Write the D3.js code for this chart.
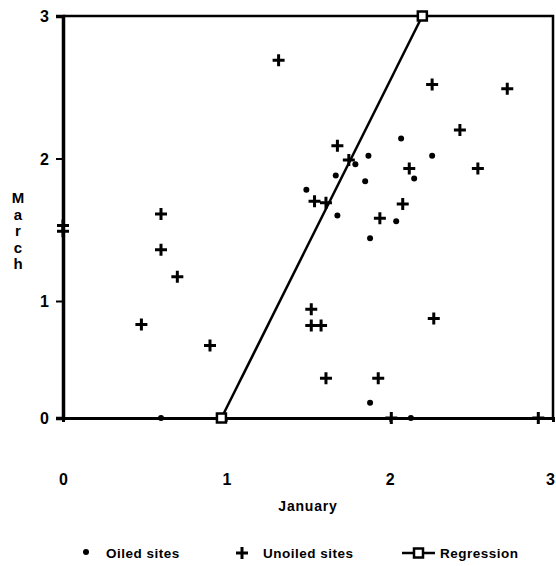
<!DOCTYPE html>
<html>
<head>
<meta charset="utf-8">
<script src="https://cdn.jsdelivr.net/npm/d3@7"></script>
<style>
  body { margin: 0; background: #fff; }
  text { font-family: "Liberation Sans", Arial, sans-serif; font-weight: bold; fill: #000; }
</style>
</head>
<body>
<div id="chart"></div>
<script>
// values: [January, March]
var oiledSites = [
  [0.60, 0], [1.49, 1.78], [1.67, 1.88], [1.68, 1.60], [1.79, 1.96],
  [1.85, 1.84], [1.87, 2.02], [1.88, 1.44], [2.04, 1.56], [2.07, 2.14],
  [2.15, 1.86], [2.26, 2.02], [1.88, 0.13], [2.13, 0]
];
var unoiledSites = [
  [0, 1.53], [0, 1.49], [0.48, 0.80], [0.60, 1.61], [0.60, 1.36],
  [0.70, 1.17], [0.90, 0.62], [1.32, 2.69], [1.54, 1.70], [1.61, 1.69],
  [1.68, 2.09], [1.75, 1.99], [2.08, 1.68], [1.94, 1.58], [2.12, 1.93],
  [2.26, 2.52], [2.72, 2.49], [2.43, 2.20], [2.54, 1.93], [1.52, 0.93],
  [1.52, 0.79], [1.58, 0.79], [2.27, 0.85], [1.61, 0.34], [1.93, 0.34],
  [2.01, 0], [2.91, 0]
];
var regression = [[0.97, 0], [2.2, 3]];
var xTicks = [0, 1, 2, 3];
var yTicks = [0, 1, 2, 3];
var yTitle = "March";
var xTitle = "January";
var legendItems = ["Oiled sites", "Unoiled sites", "Regression"];

var width = 556, height = 566;

var svg = d3.select("#chart").append("svg")
  .attr("width", width)
  .attr("height", height);

var x = d3.scaleLinear().domain([0, 3]).range([63, 553]);
// scanned figure: lower unit is squashed, so a piecewise scale
var y = d3.scaleLinear().domain([0, 1, 3]).range([418, 301, 16]);

// frame (top + right)
svg.append("path")
  .attr("d", "M" + x(0) + "," + y(3) + "H" + x(3) + "V" + y(0))
  .attr("fill", "none")
  .attr("stroke", "#000")
  .attr("stroke-width", 2.5);

// y axis
var yAxis = svg.append("g")
  .attr("transform", "translate(" + x(0) + ",0)")
  .call(d3.axisLeft(y).tickValues(yTicks).tickSize(7).tickPadding(7).tickFormat(d3.format("d")));
yAxis.select(".domain").attr("stroke-width", 3.5);
yAxis.selectAll(".tick line").attr("stroke-width", 2);
yAxis.selectAll(".tick text").style("font-size", "16px").attr("dy", "0.35em");

// x axis
var xAxis = svg.append("g")
  .attr("transform", "translate(0," + y(0) + ")")
  .call(d3.axisBottom(x).tickValues(xTicks).tickSize(4).tickPadding(63).tickFormat(d3.format("d")));
xAxis.select(".domain").attr("stroke-width", 3);
xAxis.selectAll(".tick line").attr("stroke-width", 1.5);
xAxis.selectAll(".tick text").style("font-size", "16px").attr("dy", "0");
// last label sits on the right edge, nudge it inside
xAxis.selectAll(".tick text").filter(function (d) { return d === 3; }).attr("x", -3);

// y title, one letter per line
svg.append("text")
  .attr("x", 18)
  .attr("y", 198)
  .attr("text-anchor", "middle")
  .style("font-size", "15px")
  .selectAll("tspan")
  .data(yTitle.split(""))
  .join("tspan")
  .attr("x", 18)
  .attr("dy", function (d, i) { return i === 0 ? "0.35em" : "16.5px"; })
  .text(function (d) { return d; });

svg.append("text")
  .attr("x", 308)
  .attr("y", 511)
  .attr("text-anchor", "middle")
  .style("font-size", "14px")
  .style("letter-spacing", "0.8px")
  .text(xTitle);

// regression line
svg.append("path")
  .datum(regression)
  .attr("d", d3.line().x(function (d) { return x(d[0]); }).y(function (d) { return y(d[1]); }))
  .attr("fill", "none")
  .attr("stroke", "#000")
  .attr("stroke-width", 2.5);

svg.selectAll(".regPt")
  .data(regression)
  .join("rect")
  .attr("class", "regPt")
  .attr("x", function (d) { return x(d[0]) - 4.5; })
  .attr("y", function (d) { return y(d[1]) - 4.5; })
  .attr("width", 9)
  .attr("height", 9)
  .attr("fill", "#fff")
  .attr("stroke", "#000")
  .attr("stroke-width", 2.5);

var plusPath = "M-6,0H6M0,-6V6";

svg.selectAll(".unoiled")
  .data(unoiledSites)
  .join("path")
  .attr("class", "unoiled")
  .attr("transform", function (d) { return "translate(" + x(d[0]) + "," + y(d[1]) + ")"; })
  .attr("d", plusPath)
  .attr("stroke", "#000")
  .attr("stroke-width", 3);

svg.selectAll(".oiled")
  .data(oiledSites)
  .join("circle")
  .attr("class", "oiled")
  .attr("cx", function (d) { return x(d[0]); })
  .attr("cy", function (d) { return y(d[1]); })
  .attr("r", 3)
  .attr("fill", "#000");

// legend
var lg = svg.append("g").attr("transform", "translate(0,553)");
lg.append("circle").attr("cx", 86).attr("cy", -1).attr("r", 3).attr("fill", "#000");
lg.append("path").attr("transform", "translate(242,0)").attr("d", plusPath)
  .attr("stroke", "#000").attr("stroke-width", 3);
lg.append("line").attr("x1", 402).attr("x2", 435).attr("y1", 0).attr("y2", 0)
  .attr("stroke", "#000").attr("stroke-width", 2.5);
lg.append("rect").attr("x", 414).attr("y", -4.5).attr("width", 9).attr("height", 9)
  .attr("fill", "#fff").attr("stroke", "#000").attr("stroke-width", 2.5);

lg.selectAll(".lgText")
  .data(legendItems)
  .join("text")
  .attr("class", "lgText")
  .attr("x", function (d, i) { return [106, 263, 440][i]; })
  .attr("y", 5)
  .style("font-size", "13.5px")
  .style("letter-spacing", "0.5px")
  .text(function (d) { return d; });
</script>
</body>
</html>
